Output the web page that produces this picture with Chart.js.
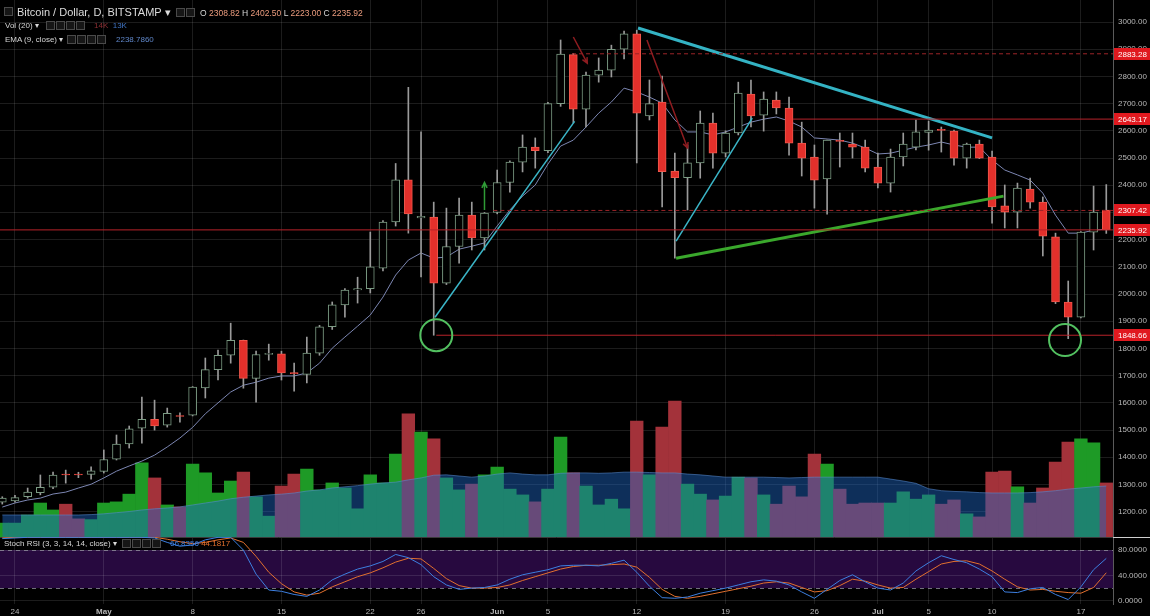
<!DOCTYPE html>
<html>
<head>
<meta charset="utf-8">
<title>Bitcoin / Dollar, D, BITSTAMP</title>
<script src="https://cdn.jsdelivr.net/npm/chart.js@4.4.1/dist/chart.umd.min.js"></script>
<style>
  html, body { margin: 0; padding: 0; background: #000; }
  #wrap { position: relative; width: 1150px; height: 616px; overflow: hidden; background: #000;
          font-family: 'Liberation Sans', Arial, sans-serif; }
  #price { position: absolute; left: 0; top: 0; }
  #stoch { position: absolute; left: 0; top: 537px; }
  .leg { position: absolute; white-space: nowrap; color: #d6d6d6; font-size: 8px; line-height: 10px; }
  .title { font-size: 11px; line-height: 13px; color: #dcdcdc; }
  .ic { display: inline-block; width: 7px; height: 7px; border: 1px solid #4a4a4a; background: #161616;
        margin-right: 1px; vertical-align: -1px; }
</style>
</head>
<body>
<div id="wrap">
  <canvas id="price" width="1150" height="537"></canvas>
  <canvas id="stoch" width="1150" height="79"></canvas>
  <div class="leg" style="left:4px;top:7px;"><i class="ic"></i></div>
  <div class="leg title" style="left:17px;top:6px;">Bitcoin / Dollar, D, BITSTAMP ▾</div>
  <div class="leg" style="left:176px;top:8px;"><i class="ic"></i><i class="ic"></i></div>
  <div class="leg" id="ohlc" style="left:200px;top:8px;font-size:8.5px;"></div>
  <div class="leg" style="left:5px;top:21px;">Vol (20) ▾</div>
  <div class="leg" style="left:46px;top:21px;"><i class="ic"></i><i class="ic"></i><i class="ic"></i><i class="ic"></i></div>
  <div class="leg" id="volLeg" style="left:94px;top:21px;"></div>
  <div class="leg" style="left:5px;top:35px;">EMA (9, close) ▾</div>
  <div class="leg" style="left:67px;top:35px;"><i class="ic"></i><i class="ic"></i><i class="ic"></i><i class="ic"></i></div>
  <div class="leg" id="emaLeg" style="left:116px;top:35px;color:#5f86c8;"></div>
  <div class="leg" style="left:4px;top:539px;">Stoch RSI (3, 3, 14, 14, close) ▾</div>
  <div class="leg" style="left:122px;top:539px;"><i class="ic"></i><i class="ic"></i><i class="ic"></i><i class="ic"></i></div>
  <div class="leg" id="stochLeg" style="left:170px;top:539px;"></div>
</div>
<script>
// daily candles, 23 Apr 2017 (index 0) to 19 Jul 2017 (index 87)
const opens = [1235,1240,1255,1270,1290,1338,1337,1337,1348,1393,1449,1507,1540,1518,1553,1555,1655,1722,1775,1830,
  1690,1778,1780,1711,1705,1783,1880,1960,2015,2020,2095,2265,2420,2280,2283,2040,2175,2290,2206,2300,
  2410,2485,2540,2527,2700,2880,2680,2805,2823,2900,2957,2655,2706,2452,2428,2482,2629,2518,2592,2735,
  2658,2713,2684,2555,2504,2423,2565,2551,2540,2467,2408,2504,2540,2594,2605,2599,2500,2551,2504,2324,
  2301,2386,2338,2210,1971,1915,2228,2308.82];
const highs = [1255,1260,1287,1335,1346,1353,1345,1365,1427,1482,1515,1621,1610,1581,1563,1660,1765,1794,1893,1831,
  1790,1816,1790,1746,1842,1885,1971,2020,2062,2228,2270,2480,2760,2596,2338,2316,2353,2338,2300,2456,
  2490,2585,2574,2705,2934,2885,2816,2868,2915,2967,2970,2787,2801,2518,2548,2673,2665,2600,2779,2787,
  2743,2743,2724,2632,2548,2566,2592,2592,2566,2518,2533,2592,2640,2636,2614,2603,2555,2566,2526,2401,
  2408,2426,2357,2224,2048,2230,2397,2402.50];
const lows = [1228,1235,1250,1262,1285,1305,1325,1320,1342,1390,1434,1452,1500,1511,1529,1552,1618,1684,1746,1654,
  1603,1757,1684,1643,1673,1775,1870,1915,1967,2004,2085,2250,2224,2063,1848.66,2035,2114,2162,2162,2295,
  2375,2449,2463,2520,2690,2629,2614,2779,2798,2864,2482,2640,2320,2132,2309,2426,2463,2504,2585,2614,
  2599,2662,2511,2434,2316,2294,2467,2500,2449,2390,2375,2471,2530,2529,2522,2474,2463,2498,2261,2243,
  2243,2316,2140,1965,1836,1912,2162,2223.00];
const closes = [1250,1252,1272,1290,1335,1335,1335,1350,1392,1449,1505,1540,1515,1562,1550,1658,1722,1775,1830,1690,
  1778,1782,1710,1707,1783,1880,1960,2015,2020,2100,2265,2420,2295,2286,2040,2175,2290,2206,2298,2410,
  2485,2540,2527,2700,2882,2680,2805,2823,2900,2957,2665,2700,2450,2428,2482,2629,2518,2592,2739,2655,
  2717,2684,2555,2500,2419,2566,2561,2540,2463,2408,2504,2551,2596,2603,2602,2500,2551,2500,2320,2301,
  2390,2338,2213,1971,1915,2228,2301,2235.92];

// EMA (9, close) as plotted
const ema = [1217,1232,1243,1250,1265,1272,1287,1301,1324,1349,1368,1386,1408,1438,1471,1510,1560,1600,1640,1665,
  1676,1691,1699,1699,1710,1746,1801,1842,1882,1923,1989,2070,2125,2151,2132,2136,2165,2176,2188,2250,
  2309,2360,2401,2478,2544,2566,2614,2665,2706,2757,2743,2724,2702,2640,2596,2596,2585,2596,2614,2632,
  2643,2651,2636,2614,2574,2570,2566,2555,2537,2515,2518,2529,2540,2548,2559,2548,2540,2540,2493,2456,
  2438,2419,2371,2290,2224,2224,2235,2238.786];

// volume in thousands and its 20-day average
const volumes = [3.6,3.6,5.7,8.8,7.0,8.5,4.7,4.5,8.8,9.1,11.1,19.2,15.3,8.3,7.8,18.9,16.6,11.4,14.5,16.8,
  10.4,5.4,13.2,16.3,17.6,12.2,14.0,12.7,7.3,16.1,14.0,21.5,31.9,27.2,25.4,15.3,12.2,13.7,16.1,18.1,
  12.4,10.9,9.1,12.4,25.9,16.6,13.2,8.3,9.8,7.3,30.0,16.1,28.5,35.2,13.7,11.1,9.6,10.6,15.5,15.3,
  10.9,8.5,13.2,10.4,21.5,18.9,12.4,8.5,8.8,8.8,8.8,11.7,9.8,10.9,8.5,9.6,6.0,5.2,16.8,17.1,
  13.0,8.8,12.7,19.4,24.6,25.4,24.4,14.0];
const volMA = [5.7,5.7,5.7,5.7,5.7,5.7,5.7,5.8,6.0,6.3,6.6,7.0,7.3,7.5,7.8,8.3,8.8,9.3,9.9,10.3,
  10.6,10.9,11.1,11.4,11.9,12.2,12.7,13.0,13.3,13.7,14.0,14.2,14.8,15.3,16.0,16.1,15.8,15.5,15.8,16.3,
  16.6,16.3,16.1,16.1,16.5,16.6,16.6,16.5,16.6,16.8,16.8,16.7,16.6,16.6,16.3,16.1,15.8,15.5,15.5,15.5,
  15.5,15.4,15.3,15.4,15.5,15.5,15.5,15.5,15.5,15.5,15.0,14.5,13.9,12.5,12.0,11.8,11.7,11.5,11.4,11.4,
  11.4,11.5,11.7,12.0,12.4,12.7,13.0,13.2];

// Stoch RSI (3, 3, 14, 14, close)
const stochK = [98,99,100,100,100,100,100,100,100,100,100,100,99,92,86,88,96,100,100,80,
  42,17,15,10,7,17,33,42,50,55,62,73,68,57,38,25,18,20,21,25,
  34,41,45,49,55,56,56,55,59,64,45,23,5,4,6,12,16,20,25,30,
  33,31,25,14,4,18,32,41,30,20,17,28,47,60,71,65,60,50,38,14,
  13,19,21,10,2,22,49,66.8356];
const stochD = [99,100,100,100,100,100,100,100,100,100,100,100,100,97,93,90,92,96,99,92,
  70,45,27,14,9,12,22,30,38,44,52,61,67,66,51,35,24,20,20,21,
  25,32,38,44,50,54,56,56,57,58,53,37,18,7,4,7,11,15,19,23,
  28,30,28,21,14,16,24,34,31,25,20,21,34,46,58,62,63,58,47,34,
  22,17,18,15,13,12,21,44.1817];

// axis ticks
const tickDays = [1, 8, 15, 22, 29, 33, 39, 43, 50, 57, 64, 69, 73, 78, 85];
const tickLabels = ['24', 'May', '8', '15', '22', '26', 'Jun', '5', '12', '19', '26', 'Jul', '5', '10', '17'];
const monthLabels = ['May', 'Jun', 'Jul'];
const priceTicks = [1200,1300,1400,1500,1600,1700,1800,1900,2000,2100,2200,2300,2400,2500,2600,2700,2800,2900,3000];
const stochTicks = [0, 40, 80];

// chart drawings, in [day index, price]
const levelPrices = [2883.28, 2643.17, 2307.42, 2235.92, 1848.66];
const levelFrom = [44.9, 62.3, 38.7, -1, 34.2];
const levelDashed = [true, false, true, false, false];
const trendUp = [[34.1, 1915], [45.1, 2635]];
const trendTop = [[50.1, 2978], [78.0, 2574]];
const trendRally = [[53.1, 2195], [59.1, 2647]];
const trendFloor = [[53.1, 2132], [78.9, 2360]];
const redArrows = [[[45.0, 2945], [46.1, 2849]], [[50.8, 2934], [54.0, 2537]]];
const greenArrows = [[[38.0, 2309], [38.0, 2410]]];
const rings = [[34.2, 1849], [83.75, 1831]];

Chart.defaults.font.family = "'Liberation Sans', Arial, sans-serif";
Chart.defaults.color = '#b8b8b8';

const N = closes.length;
const last = N - 1;
const idx = closes.map((_, i) => i);
const isUp = idx.map(i => closes[i] >= opens[i]);
const X_MIN = -0.18, X_MAX = 87.53;
const gridColor = 'rgba(255,255,255,0.11)';

function xAxis(showLabels) {
  return {
    type: 'linear', min: X_MIN, max: X_MAX, bounds: 'data', offset: false,
    grid: { color: gridColor, drawTicks: false, offset: false },
    border: { display: false },
    ticks: {
      display: showLabels, autoSkip: false, maxRotation: 0, padding: 3, color: '#b8b8b8',
      font: ctx => ({ size: 8, weight: ctx.tick && monthLabels.includes(ctx.tick.label) ? 'bold' : 'normal' }),
      callback: v => { const k = tickDays.indexOf(v); return k >= 0 ? tickLabels[k] : ''; }
    },
    afterBuildTicks: s => { s.ticks = tickDays.map(v => ({ value: v })); },
    afterFit: s => { s.height = showLabels ? 12 : 0; s.paddingLeft = 0; s.paddingRight = 0; }
  };
}

function rightAxis(min, max, ticks, digits) {
  return {
    position: 'right', min, max, bounds: 'data',
    grid: { color: gridColor, drawTicks: false },
    border: { display: true, color: '#5a5a5a' },
    ticks: { padding: 5, color: '#b8b8b8', font: { size: 8 }, callback: v => v.toFixed(digits) },
    afterBuildTicks: s => { s.ticks = ticks.map(v => ({ value: v })); },
    afterFit: s => { s.width = 37; s.paddingTop = 0; s.paddingBottom = 0; }
  };
}

const lineDs = (pts, color, width, dash) => ({
  type: 'line', yAxisID: 'y', order: 0,
  data: pts.map(([x, y]) => ({ x, y })),
  borderColor: color, borderWidth: width, borderDash: dash || [], pointRadius: 0, tension: 0
});

const levelSets = levelPrices.map((p, k) =>
  lineDs([[levelFrom[k], p], [X_MAX + 1, p]], levelDashed[k] ? '#9c2428' : '#b8232a', 1, levelDashed[k] ? [4, 3] : []));

function arrow(ctx, x0, y0, x1, y1, color) {
  const a = Math.atan2(y1 - y0, x1 - x0), h = 6;
  ctx.strokeStyle = color; ctx.lineWidth = 1.5;
  ctx.beginPath(); ctx.moveTo(x0, y0); ctx.lineTo(x1, y1);
  ctx.moveTo(x1 - h * Math.cos(a - 0.45), y1 - h * Math.sin(a - 0.45));
  ctx.lineTo(x1, y1);
  ctx.lineTo(x1 - h * Math.cos(a + 0.45), y1 - h * Math.sin(a + 0.45));
  ctx.stroke();
}

const drawings = {
  id: 'drawings',
  afterDatasetsDraw(chart) {
    const { ctx, chartArea: a, scales: { x, y } } = chart;
    ctx.save();
    ctx.beginPath(); ctx.rect(a.left, a.top, a.width, a.height); ctx.clip();
    const pt = ([d, p]) => [x.getPixelForValue(d), y.getPixelForValue(p)];
    redArrows.forEach(([f, t]) => arrow(ctx, ...pt(f), ...pt(t), '#8e1c20'));
    greenArrows.forEach(([f, t]) => arrow(ctx, ...pt(f), ...pt(t), '#2f9b36'));
    ctx.strokeStyle = '#52c060'; ctx.lineWidth = 2;
    rings.forEach(r => { const [cx, cy] = pt(r); ctx.beginPath(); ctx.arc(cx, cy, 16, 0, Math.PI * 2); ctx.stroke(); });
    ctx.restore();
  },
  afterDraw(chart) {
    const { ctx, chartArea: a, scales: { y } } = chart;
    ctx.save();
    ctx.font = "8px 'Liberation Sans', Arial, sans-serif";
    ctx.textBaseline = 'middle';
    levelPrices.forEach(p => {
      const py = Math.round(y.getPixelForValue(p));
      ctx.fillStyle = '#e0191f';
      ctx.fillRect(a.right + 1, py - 6, 36, 12);
      ctx.fillStyle = '#ffffff';
      ctx.fillText(p.toFixed(2), a.right + 5, py + 0.5);
    });
    ctx.restore();
  }
};

new Chart(document.getElementById('price'), {
  type: 'bar',
  data: {
    datasets: [
      ...levelSets,
      lineDs(trendUp, '#3bb6c8', 1.5),
      lineDs(trendTop, '#34b3c4', 3),
      lineDs(trendRally, '#3bb6c8', 1.5),
      lineDs(trendFloor, '#3aa82c', 3),
      {
        type: 'bar', yAxisID: 'y', order: 1, grouped: false,
        data: idx.map(i => ({ x: i, y: [opens[i], closes[i]] })),
        backgroundColor: c => isUp[c.dataIndex] ? '#000000' : '#e3302b',
        borderColor: c => isUp[c.dataIndex] ? '#7c9c84' : '#f0574c',
        borderWidth: 1, borderSkipped: false, barThickness: 8, minBarLength: 1
      },
      {
        type: 'bar', yAxisID: 'y', order: 2, grouped: false,
        data: idx.map(i => ({ x: i, y: [lows[i], highs[i]] })),
        backgroundColor: '#9a9a9a', borderWidth: 0, barThickness: 1
      },
      {
        type: 'line', yAxisID: 'y', order: 3,
        data: idx.map(i => ({ x: i, y: ema[i] })),
        borderColor: '#7c86b2', borderWidth: 1, pointRadius: 0, tension: 0
      },
      {
        type: 'line', yAxisID: 'yv', order: 4,
        data: idx.map(i => ({ x: i, y: volMA[i] })),
        borderColor: 'rgba(90,140,210,0.55)', borderWidth: 1, pointRadius: 0, tension: 0,
        fill: 'origin', backgroundColor: 'rgba(30,105,200,0.45)'
      },
      {
        type: 'bar', yAxisID: 'yv', order: 5, grouped: false,
        data: idx.map(i => ({ x: i, y: volumes[i] })),
        backgroundColor: c => isUp[c.dataIndex] ? '#1e9a26' : '#a3323a',
        borderWidth: 0, barPercentage: 1, categoryPercentage: 1
      }
    ]
  },
  options: {
    responsive: false, animation: false, devicePixelRatio: 1,
    layout: { padding: 0, autoPadding: false },
    plugins: { legend: { display: false }, tooltip: { enabled: false } },
    scales: {
      x: xAxis(false),
      y: rightAxis(1107, 3081, priceTicks, 2),
      yv: { display: false, min: 0, max: 139.1 }
    }
  },
  plugins: [drawings]
});

const stochBand = {
  id: 'stochBand',
  beforeDraw(chart) {
    const { ctx, chartArea: a, scales: { y } } = chart;
    const top = y.getPixelForValue(80), bot = y.getPixelForValue(20);
    ctx.save();
    ctx.fillStyle = '#000'; ctx.fillRect(0, 0, chart.width, chart.height);
    ctx.fillStyle = '#27093f';
    ctx.fillRect(a.left, top, a.width, bot - top);
    ctx.restore();
  },
  beforeDatasetsDraw(chart) {
    const { ctx, chartArea: a, scales: { y } } = chart;
    ctx.save();
    ctx.strokeStyle = 'rgba(150,150,160,0.75)'; ctx.lineWidth = 1; ctx.setLineDash([4, 4]);
    [80, 20].forEach(v => {
      const py = Math.round(y.getPixelForValue(v)) + 0.5;
      ctx.beginPath(); ctx.moveTo(a.left, py); ctx.lineTo(a.right, py); ctx.stroke();
    });
    ctx.setLineDash([]);
    ctx.strokeStyle = '#3a3a3a';
    ctx.beginPath(); ctx.moveTo(0, 0.5); ctx.lineTo(a.right, 0.5); ctx.stroke();
    ctx.strokeStyle = '#d0d0d0';
    ctx.beginPath(); ctx.moveTo(a.right, 0.5); ctx.lineTo(chart.width, 0.5); ctx.stroke();
    ctx.restore();
  }
};

new Chart(document.getElementById('stoch'), {
  type: 'line',
  data: {
    datasets: [
      { data: idx.map(i => ({ x: i, y: stochK[i] })), borderColor: '#3d7fe0', borderWidth: 1, pointRadius: 0, tension: 0 },
      { data: idx.map(i => ({ x: i, y: stochD[i] })), borderColor: '#e2702e', borderWidth: 1, pointRadius: 0, tension: 0 }
    ]
  },
  options: {
    responsive: false, animation: false, devicePixelRatio: 1,
    layout: { padding: 0, autoPadding: false },
    plugins: { legend: { display: false }, tooltip: { enabled: false } },
    scales: {
      x: xAxis(true),
      y: rightAxis(-5, 100.5, stochTicks, 4)
    }
  },
  plugins: [stochBand]
});

// legend texts from the last values
const num = (v, c) => `<span style="color:${c}">${v}</span>`;
document.getElementById('ohlc').innerHTML =
  `O ${num(opens[last].toFixed(2), '#ec9c7e')} H ${num(highs[last].toFixed(2), '#ec9c7e')} ` +
  `L ${num(lows[last].toFixed(2), '#ec9c7e')} C ${num(closes[last].toFixed(2), '#ec9c7e')}`;
document.getElementById('volLeg').innerHTML =
  num(Math.round(volumes[last]) + 'K', '#8e3034') + '&nbsp;&nbsp;' + num(Math.round(volMA[last]) + 'K', '#3f74c4');
document.getElementById('emaLeg').textContent = ema[last].toFixed(4);
document.getElementById('stochLeg').innerHTML =
  num(stochK[last].toFixed(4), '#3d7fe0') + ' ' + num(stochD[last].toFixed(4), '#e2702e');
</script>
</body>
</html>
